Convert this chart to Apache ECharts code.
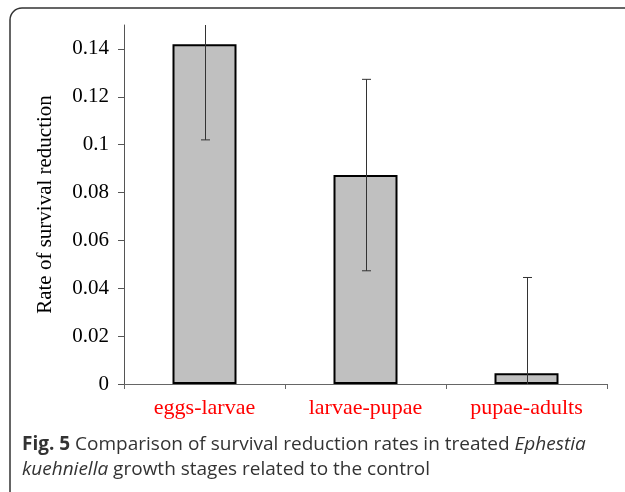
<!DOCTYPE html>
<html><head><meta charset="utf-8">
<script src="https://cdn.jsdelivr.net/npm/echarts@6/dist/echarts.min.js"></script>
<style>html,body{margin:0;padding:0;background:#fff;}#c{width:625px;height:492px;}</style>
</head><body><div id="c"></div>
<script>
const categories = ['eggs-larvae', 'larvae-pupae', 'pupae-adults'];
const rates = [0.142, 0.0873, 0.0045];
const errors = [0.040, 0.040, 0.040];
const yTicks = [0, 0.02, 0.04, 0.06, 0.08, 0.1, 0.12, 0.14];

const chart = echarts.init(document.getElementById('c'));
const serif = 'Liberation Serif';
chart.setOption({
  animation: false,
  grid: {left: 124, right: 18, top: 25, bottom: 108},
  xAxis: {
    type: 'category', data: categories,
    axisLine: {lineStyle: {color: '#666', width: 1}},
    axisTick: {show: true, length: 5, lineStyle: {color: '#666'}},
    axisLabel: {color: '#ff0000', fontFamily: serif, fontSize: 22, margin: 13}
  },
  yAxis: {
    type: 'value', min: 0, max: 0.15,
    name: 'Rate of survival reduction', nameLocation: 'middle', nameGap: 68,
    nameTextStyle: {fontFamily: serif, fontSize: 21, color: '#000'},
    axisLine: {show: true, lineStyle: {color: '#555', width: 1}},
    axisTick: {show: true, length: 6, customValues: yTicks, lineStyle: {color: '#555'}},
    axisLabel: {customValues: yTicks, fontFamily: serif, fontSize: 21, color: '#000', margin: 15,
      formatter: v => String(+v.toFixed(2))},
    splitLine: {show: false}
  },
  series: [{
    type: 'bar', data: rates, barWidth: 64,
    itemStyle: {color: '#c0c0c0', borderColor: '#000', borderWidth: 2}
  }, {
    type: 'custom', clip: true,
    data: rates.map((v, i) => [i, v - errors[i], v + errors[i]]),
    renderItem: (params, api) => {
      const lo = api.coord([api.value(0), api.value(1)]);
      const hi = api.coord([api.value(0), api.value(2)]);
      const x = Math.round(lo[0]) + 0.5;
      const hw = 4.5;
      const st = {stroke: '#333', lineWidth: 1};
      return {type: 'group', children: [
        {type: 'line', shape: {x1: x, y1: lo[1], x2: x, y2: hi[1]}, style: st},
        {type: 'line', shape: {x1: x - hw, y1: lo[1], x2: x + hw, y2: lo[1]}, style: st},
        {type: 'line', shape: {x1: x - hw, y1: hi[1], x2: x + hw, y2: hi[1]}, style: st}
      ]};
    },
    z: 5
  }],
  graphic: [
    {type: 'rect', shape: {x: 10, y: 8, width: 720, height: 520, r: 12},
      style: {fill: 'none', stroke: '#333', lineWidth: 1.5}, silent: true},
    {type: 'text', left: 22, top: 432, style: {
      text: '{b|Fig. 5} Comparison of survival reduction rates in treated {i|Ephestia}\n{i|kuehniella} growth stages related to the control',
      font: '19px "Open Sans"', fill: '#333', lineHeight: 25,
      rich: {
        b: {fontWeight: 'bold', fontFamily: 'Open Sans', fontSize: 19, fill: '#333', lineHeight: 25},
        i: {fontStyle: 'italic', fontFamily: 'Open Sans', fontSize: 19, fill: '#333', lineHeight: 25}
      }}}
  ]
});
</script></body></html>
